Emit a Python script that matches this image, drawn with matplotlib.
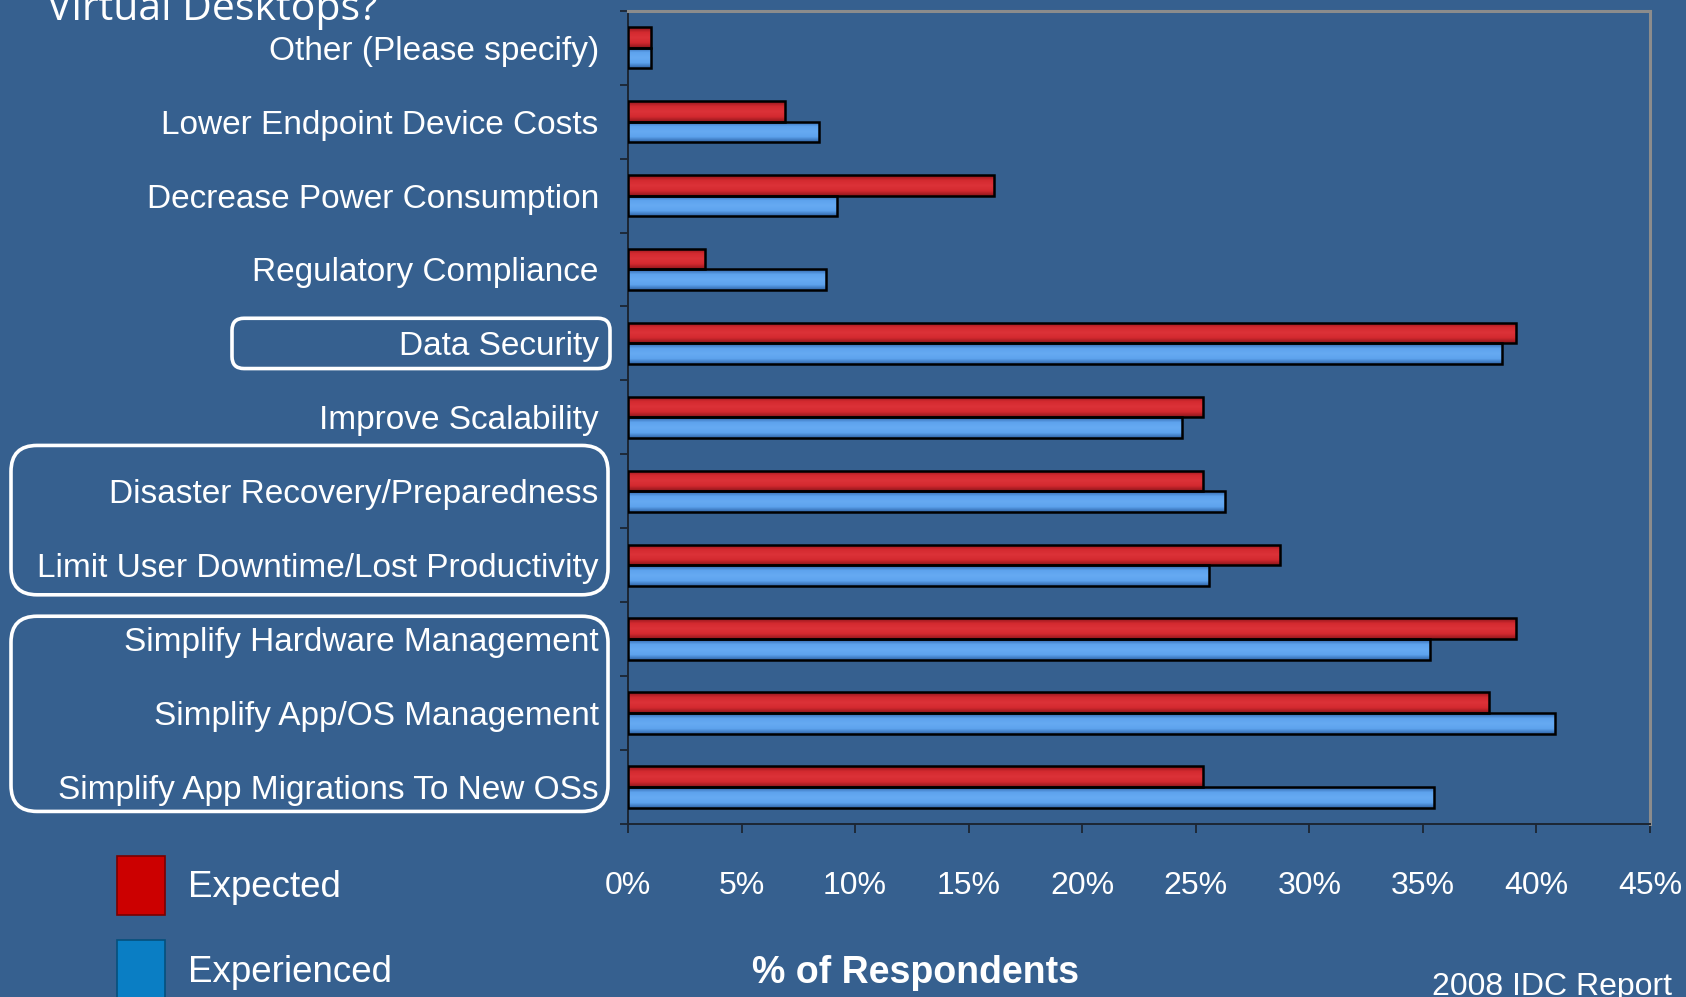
import numpy as np
import matplotlib
matplotlib.use("Agg")
from matplotlib import pyplot as plt
from matplotlib.colors import LinearSegmentedColormap
from matplotlib.patches import FancyBboxPatch, Patch

# data
categories = ["Other (Please specify)", "Lower Endpoint Device Costs",
              "Decrease Power Consumption", "Regulatory Compliance",
              "Data Security", "Improve Scalability",
              "Disaster Recovery/Preparedness",
              "Limit User Downtime/Lost Productivity",
              "Simplify Hardware Management", "Simplify App/OS Management",
              "Simplify App Migrations To New OSs"]
expected = [1.0, 6.9, 16.1, 3.4, 39.1, 25.3, 25.3, 28.7, 39.1, 37.9, 25.3]
experienced = [1.0, 8.4, 9.2, 8.7, 38.5, 24.4, 26.3, 25.6, 35.3, 40.8, 35.5]
xticks = [0, 5, 10, 15, 20, 25, 30, 35, 40, 45]
# boxed groups: (first, last) category index
groups = [(4, 4), (6, 7), (8, 10)]

BG = "#36608f"
W, H = 1686, 997
plt.rcParams['font.family'] = ['Liberation Sans', 'DejaVu Sans']

fig = plt.figure(figsize=(W / 100, H / 100), dpi=100, facecolor=BG)
ax = fig.add_axes([628 / W, 1 - 824 / H, (1650 - 628) / W, (824 - 10.7) / H])
ax.set_facecolor(BG)

y = np.arange(len(categories))
h = 0.28
red_cm = LinearSegmentedColormap.from_list("r", ["#8e161b", "#d42a30", "#dc3238", "#d42a30", "#8e161b"])
blue_cm = LinearSegmentedColormap.from_list("b", ["#2f65a8", "#5ea3ee", "#66aaf2", "#5ea3ee", "#2f65a8"])

bars_r = ax.barh(y - h / 2, expected, height=h, color="#d42a30", edgecolor="black", linewidth=1.8, zorder=3)
bars_b = ax.barh(y + h / 2, experienced, height=h, color="#5ea3ee", edgecolor="black", linewidth=1.8, zorder=3)

grad = np.linspace(0, 1, 64).reshape(-1, 1)
for bars, cm in ((bars_r, red_cm), (bars_b, blue_cm)):
    for b in bars:
        x0, y0, bw, bh = b.get_x(), b.get_y(), b.get_width(), b.get_height()
        im = ax.imshow(grad, cmap=cm, aspect="auto", extent=(x0, x0 + bw, y0 + bh, y0),
                       zorder=3.5, interpolation="bilinear")
        im.set_clip_path(b)
        b.set_facecolor("none")
        b.set_zorder(4)

ax.set_xlim(0, 45)
ax.set_ylim(len(categories) - 0.5, -0.5)
ax.set_xticks(xticks)
ax.set_xticklabels([f"{t}%" for t in xticks])
ax.set_yticks(y)
ax.set_yticklabels(categories)
ax.set_yticks(np.arange(len(categories) + 1) - 0.5, minor=True)

ax.tick_params(axis="x", direction="out", length=6.5, width=1.3, colors="#1c2633",
               labelcolor="white", labelsize=23, pad=27.5)
ax.tick_params(axis="y", which="major", length=0, labelsize=24, labelcolor="white", pad=21)
ax.tick_params(axis="y", which="minor", direction="out", length=6, width=1.3, color="#1c2633")

for s in ("left", "bottom"):
    ax.spines[s].set_color("#1c2633")
    ax.spines[s].set_linewidth(1.4)
for s in ("top", "right"):
    ax.spines[s].set_color("#8c8c8c")
    ax.spines[s].set_linewidth(2.2)

# rounded boxes around the highlighted labels (pixel coords via inches)
fig.canvas.draw()
to_px = ax.transData
box_x = [(232, 610), (11, 608), (11, 608)]
box_pad = [(0.34, 0.34), (0.62, 0.40), (0.31, 0.33)]
box_r = [12, 26, 26]
for (i0, i1), (xl, xr), (pt, pb), r in zip(groups, box_x, box_pad, box_r):
    ytop = to_px.transform((0, i0 - pt))[1]
    ybot = to_px.transform((0, i1 + pb))[1]
    p = FancyBboxPatch(((xl + r) / 100, (ybot + r) / 100), (xr - xl - 2 * r) / 100,
                       (ytop - ybot - 2 * r) / 100,
                       boxstyle=f"round,pad={r / 100},rounding_size={r / 100}",
                       transform=fig.dpi_scale_trans, facecolor="none",
                       edgecolor="white", linewidth=2.6, zorder=10)
    fig.add_artist(p)

# legend
handles = [Patch(facecolor="#cc0000", edgecolor="#7a0000", linewidth=1.2),
           Patch(facecolor="#0a7ec4", edgecolor="#05507c", linewidth=1.2)]
leg = fig.legend(handles, ["Expected", "Experienced"], loc="upper left",
                 bbox_to_anchor=(117 / W, 1 - 856 / H), frameon=False, borderpad=0,
                 borderaxespad=0, handlelength=1.3, handleheight=2.1,
                 labelspacing=0.68, handletextpad=0.63, fontsize=26.5)
for t in leg.get_texts():
    t.set_color("white")

fig.text(47 / W, 1 - 20 / H, "Virtual Desktops?", color="white", fontsize=29.5,
         family=["Open Sans", "DejaVu Sans"], va="baseline", ha="left")
fig.text(916 / W, 1 - 983 / H, "% of Respondents", color="white", fontsize=27,
         fontweight="bold", ha="center", va="baseline")
fig.text(1672 / W, 1 - 995 / H, "2008 IDC Report", color="white", fontsize=23,
         ha="right", va="baseline")

fig.savefig("out.png", dpi=100, facecolor=BG)
